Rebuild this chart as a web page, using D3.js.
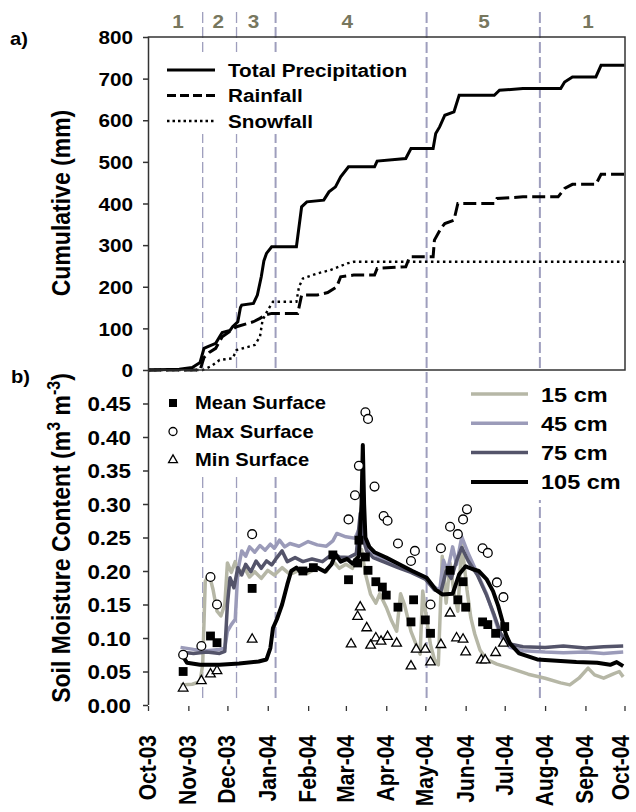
<!DOCTYPE html>
<html>
<head>
<meta charset="UTF-8">
<title>Cumulative precipitation and soil moisture</title>
<script src="https://cdnjs.cloudflare.com/ajax/libs/d3/7.8.5/d3.min.js"></script>
<style>
body { margin: 0; background: #fff; }
svg { display: block; font-family: "Liberation Sans", Arial, sans-serif; font-weight: bold; }
</style>
</head>
<body>
<script>
// ---- data ----
var monthLabels = ["Oct-03","Nov-03","Dec-03","Jan-04","Feb-04","Mar-04","Apr-04",
                   "May-04","Jun-04","Jul-04","Aug-04","Sep-04","Oct-04"];
var seasonNames = ["1","2","3","4","5","1"];
var seasonLabelDates = ["2003-10-24","2003-11-24","2003-12-21","2004-03-02","2004-06-15","2004-09-03"];
var seasonBreaks = ["2003-11-12","2003-12-08","2004-01-07","2004-05-02","2004-07-28"];
var precipTicks = [0,100,200,300,400,500,600,700,800];
var moistTicks = [0,0.05,0.10,0.15,0.20,0.25,0.30,0.35,0.40,0.45];

var totalPrecip = [["2003-10-01",0],["2003-10-25",2],["2003-11-04",6],["2003-11-10",18],["2003-11-13",52],
  ["2003-11-16",56],["2003-11-22",64],["2003-11-25",80],["2003-11-27",90],["2003-12-03",95],["2003-12-05",104],
  ["2003-12-09",116],["2003-12-11",150],["2003-12-12",156],["2003-12-21",160],["2003-12-24",180],["2003-12-27",224],
  ["2003-12-29",262],["2003-12-31",280],["2004-01-04",296],["2004-01-23",296],["2004-01-24",320],["2004-01-27",392],
  ["2004-01-31",404],["2004-02-13",408],["2004-02-17",428],["2004-02-22",440],["2004-02-26",464],["2004-03-03",488],
  ["2004-03-23",488],["2004-03-25",502],["2004-04-16",508],["2004-04-20",532],["2004-05-07",532],["2004-05-09",568],
  ["2004-05-12",584],["2004-05-16",612],["2004-05-23",620],["2004-05-27",660],["2004-06-23",660],["2004-06-27",672],
  ["2004-07-15",676],["2004-08-13",676],["2004-08-16",692],["2004-08-22",704],["2004-09-09",704],["2004-09-13",732],
  ["2004-10-01",732]];
var rainfall = [["2003-10-01",0],["2003-11-10",0],["2003-11-13",30],["2003-11-17",42],["2003-11-22",52],
  ["2003-11-27",80],["2003-12-08",104],["2003-12-21",116],["2003-12-26",124],["2003-12-30",132],["2004-01-04",136],
  ["2004-01-24",136],["2004-01-27",180],["2004-02-08",180],["2004-02-16",186],["2004-02-23",200],["2004-02-26",224],
  ["2004-03-07",228],["2004-03-23",228],["2004-03-25",244],["2004-04-16",248],["2004-04-19",272],["2004-05-07",272],
  ["2004-05-08",312],["2004-05-13",340],["2004-05-16",352],["2004-05-23",360],["2004-05-26",400],["2004-06-23",400],
  ["2004-06-25",412],["2004-07-15",416],["2004-08-11",416],["2004-08-16",436],["2004-08-22",446],["2004-09-09",446],
  ["2004-09-13",470],["2004-10-01",470]];
var snowfall = [["2003-10-01",0],["2003-11-12",0],["2003-11-19",10],["2003-11-25",24],["2003-12-05",28],
  ["2003-12-08",48],["2003-12-22",60],["2003-12-26",80],["2003-12-28",120],["2004-01-01",144],["2004-01-05",164],
  ["2004-01-23",164],["2004-01-25",200],["2004-01-28",220],["2004-02-08",232],["2004-02-18",240],["2004-03-02",256],
  ["2004-03-07",260],["2004-10-01",260]];

var soil15 = [["2003-10-26",0.030],["2003-11-04",0.031],["2003-11-10",0.035],["2003-11-12",0.060],["2003-11-14",0.185],
  ["2003-11-17",0.195],["2003-11-20",0.172],["2003-11-23",0.140],["2003-11-26",0.133],["2003-11-29",0.150],
  ["2003-12-01",0.212],["2003-12-04",0.198],["2003-12-07",0.214],["2003-12-10",0.194],["2003-12-14",0.205],
  ["2003-12-18",0.191],["2003-12-22",0.199],["2003-12-27",0.189],["2004-01-01",0.201],["2004-01-06",0.194],
  ["2004-01-12",0.205],["2004-01-18",0.195],["2004-01-25",0.201],["2004-02-01",0.197],["2004-02-08",0.205],
  ["2004-02-15",0.199],["2004-02-20",0.215],["2004-02-25",0.204],["2004-03-01",0.210],["2004-03-06",0.204],
  ["2004-03-10",0.226],["2004-03-13",0.232],["2004-03-16",0.196],["2004-03-20",0.165],["2004-03-24",0.152],
  ["2004-03-27",0.166],["2004-04-01",0.146],["2004-04-05",0.126],["2004-04-09",0.110],["2004-04-12",0.166],
  ["2004-04-15",0.150],["2004-04-20",0.110],["2004-04-24",0.090],["2004-04-27",0.076],["2004-04-29",0.170],
  ["2004-05-02",0.128],["2004-05-05",0.090],["2004-05-08",0.068],["2004-05-11",0.060],["2004-05-14",0.222],
  ["2004-05-17",0.152],["2004-05-20",0.212],["2004-05-23",0.168],["2004-05-26",0.140],["2004-05-29",0.242],
  ["2004-06-02",0.172],["2004-06-05",0.130],["2004-06-08",0.106],["2004-06-12",0.082],["2004-06-17",0.068],
  ["2004-06-25",0.061],["2004-07-05",0.055],["2004-07-19",0.046],["2004-08-01",0.040],["2004-08-13",0.033],
  ["2004-08-20",0.030],["2004-08-27",0.040],["2004-09-03",0.055],["2004-09-08",0.045],["2004-09-15",0.040],
  ["2004-09-22",0.046],["2004-09-27",0.050],["2004-09-30",0.042]];
var soil45 = [["2003-10-26",0.086],["2003-11-05",0.083],["2003-11-15",0.081],["2003-11-25",0.083],["2003-11-29",0.085],
  ["2003-12-01",0.110],["2003-12-04",0.120],["2003-12-07",0.128],["2003-12-09",0.200],["2003-12-12",0.230],
  ["2003-12-15",0.222],["2003-12-18",0.236],["2003-12-22",0.228],["2003-12-26",0.238],["2003-12-30",0.231],
  ["2004-01-03",0.240],["2004-01-06",0.234],["2004-01-10",0.246],["2004-01-14",0.236],["2004-01-18",0.241],
  ["2004-01-25",0.237],["2004-02-01",0.244],["2004-02-08",0.239],["2004-02-15",0.237],["2004-02-20",0.245],
  ["2004-02-23",0.256],["2004-03-01",0.251],["2004-03-08",0.249],["2004-03-11",0.262],["2004-03-13",0.272],
  ["2004-03-16",0.242],["2004-03-20",0.229],["2004-03-25",0.223],["2004-04-01",0.216],["2004-04-10",0.209],
  ["2004-04-20",0.201],["2004-05-01",0.191],["2004-05-08",0.176],["2004-05-12",0.171],["2004-05-15",0.216],
  ["2004-05-18",0.200],["2004-05-22",0.236],["2004-05-25",0.210],["2004-05-29",0.251],["2004-06-03",0.226],
  ["2004-06-10",0.196],["2004-06-17",0.166],["2004-06-23",0.131],["2004-06-28",0.101],["2004-07-05",0.086],
  ["2004-07-15",0.081],["2004-08-01",0.079],["2004-08-15",0.078],["2004-09-01",0.079],["2004-09-15",0.077],
  ["2004-09-30",0.079]];
var soil75 = [["2003-10-26",0.079],["2003-11-05",0.077],["2003-11-15",0.079],["2003-11-25",0.077],["2003-11-29",0.080],
  ["2003-12-01",0.150],["2003-12-03",0.190],["2003-12-06",0.175],["2003-12-09",0.205],["2003-12-12",0.194],
  ["2003-12-15",0.210],["2003-12-19",0.199],["2003-12-23",0.215],["2003-12-27",0.204],["2003-12-31",0.215],
  ["2004-01-04",0.209],["2004-01-08",0.220],["2004-01-12",0.230],["2004-01-16",0.214],["2004-01-22",0.220],
  ["2004-01-28",0.214],["2004-02-04",0.218],["2004-02-12",0.214],["2004-02-20",0.226],["2004-02-25",0.221],
  ["2004-03-03",0.220],["2004-03-09",0.226],["2004-03-12",0.286],["2004-03-14",0.250],["2004-03-17",0.230],
  ["2004-03-22",0.220],["2004-04-01",0.212],["2004-04-10",0.205],["2004-04-20",0.198],["2004-05-01",0.188],
  ["2004-05-08",0.172],["2004-05-13",0.169],["2004-05-17",0.200],["2004-05-21",0.189],["2004-05-25",0.215],
  ["2004-05-29",0.235],["2004-06-03",0.215],["2004-06-10",0.194],["2004-06-17",0.164],["2004-06-23",0.134],
  ["2004-06-28",0.106],["2004-07-05",0.091],["2004-07-15",0.087],["2004-08-01",0.086],["2004-08-15",0.088],
  ["2004-09-01",0.085],["2004-09-15",0.087],["2004-09-30",0.088]];
var soil105 = [["2003-10-28",0.072],["2003-10-31",0.063],["2003-11-10",0.060],["2003-11-25",0.060],["2003-12-10",0.062],
  ["2003-12-25",0.065],["2003-12-31",0.068],["2004-01-03",0.085],["2004-01-05",0.115],["2004-01-08",0.128],
  ["2004-01-12",0.150],["2004-01-16",0.180],["2004-01-19",0.200],["2004-01-23",0.205],["2004-01-27",0.197],
  ["2004-02-02",0.202],["2004-02-08",0.205],["2004-02-14",0.199],["2004-02-19",0.210],["2004-02-22",0.225],
  ["2004-02-26",0.214],["2004-03-02",0.218],["2004-03-06",0.211],["2004-03-11",0.222],["2004-03-13",0.300],
  ["2004-03-14",0.388],["2004-03-15",0.300],["2004-03-16",0.250],["2004-03-19",0.236],["2004-03-23",0.228],
  ["2004-04-01",0.220],["2004-04-11",0.210],["2004-04-21",0.200],["2004-05-02",0.190],["2004-05-09",0.172],
  ["2004-05-14",0.165],["2004-05-22",0.166],["2004-05-27",0.195],["2004-06-01",0.207],["2004-06-06",0.203],
  ["2004-06-11",0.200],["2004-06-17",0.188],["2004-06-22",0.170],["2004-06-26",0.148],["2004-06-29",0.127],
  ["2004-07-02",0.105],["2004-07-05",0.092],["2004-07-12",0.077],["2004-07-26",0.068],["2004-08-10",0.066],
  ["2004-08-25",0.064],["2004-09-10",0.063],["2004-09-20",0.060],["2004-09-25",0.064],["2004-09-30",0.058]];

var meanSurface = [["2003-10-28",0.050],["2003-11-18",0.103],["2003-11-23",0.093],["2003-12-20",0.174],
  ["2004-01-28",0.200],["2004-02-05",0.205],["2004-02-20",0.224],["2004-03-03",0.187],["2004-03-10",0.212],
  ["2004-03-11",0.246],["2004-03-16",0.221],["2004-03-18",0.201],["2004-03-24",0.184],["2004-03-29",0.176],
  ["2004-04-01",0.164],["2004-04-10",0.146],["2004-04-20",0.124],["2004-04-22",0.157],["2004-05-01",0.127],
  ["2004-05-05",0.107],["2004-05-20",0.201],["2004-05-26",0.157],["2004-05-30",0.184],["2004-06-01",0.146],
  ["2004-06-14",0.124],["2004-06-18",0.120],["2004-06-24",0.107],["2004-07-01",0.117]];
var maxSurface = [["2003-10-28",0.075],["2003-11-11",0.088],["2003-11-18",0.191],["2003-11-23",0.150],
  ["2003-12-20",0.255],["2004-03-03",0.277],["2004-03-08",0.313],["2004-03-11",0.357],["2004-03-16",0.437],
  ["2004-03-18",0.427],["2004-03-23",0.326],["2004-03-30",0.282],["2004-04-02",0.275],["2004-04-10",0.241],
  ["2004-04-20",0.215],["2004-04-23",0.230],["2004-05-05",0.150],["2004-05-13",0.234],["2004-05-20",0.266],
  ["2004-05-26",0.255],["2004-05-30",0.277],["2004-06-02",0.292],["2004-06-14",0.234],["2004-06-18",0.227],
  ["2004-06-25",0.183],["2004-06-30",0.161]];
var minSurface = [["2003-10-28",0.025],["2003-11-11",0.036],["2003-11-18",0.046],["2003-11-23",0.051],
  ["2003-12-20",0.098],["2004-03-05",0.091],["2004-03-10",0.132],["2004-03-12",0.146],["2004-03-17",0.115],
  ["2004-03-20",0.089],["2004-03-24",0.100],["2004-03-28",0.095],["2004-04-02",0.102],["2004-04-09",0.092],
  ["2004-04-20",0.058],["2004-04-24",0.083],["2004-05-01",0.083],["2004-05-05",0.064],["2004-05-13",0.090],
  ["2004-05-20",0.137],["2004-05-25",0.100],["2004-05-30",0.098],["2004-06-01",0.079],["2004-06-13",0.067],
  ["2004-06-16",0.067],["2004-06-24",0.078],["2004-06-30",0.092]];

// ---- layout ----
var W = 636, H = 812;
var left = 148, right = 624.5;
var topA = 37, botA = 370, botB = 705;
var SX = 1.12;          // glyphs in the original are a bit wider than Arial
var seasonColor = "#9e9ebd", numColor = "#77775e";

var parse = d3.timeParse("%Y-%m-%d");
var parseMonth = d3.timeParse("%b-%y");
function rows(arr){ return arr.map(function(d){ return {date: parse(d[0]), v: d[1]}; }); }

var x = d3.scaleTime().domain([parseMonth(monthLabels[0]), parseMonth(monthLabels[monthLabels.length-1])]).range([left, right]);
var yA = d3.scaleLinear().domain([0, 800]).range([botA, topA]);
var yB = d3.scaleLinear().domain([0, 0.5]).range([botB, botA]);

var svg = d3.select("body").append("svg").attr("width", W).attr("height", H);

function label(g, px, py, s, size, anchor, rot){
    return g.append("text")
        .attr("transform", "translate(" + px + "," + py + ") scale(" + SX + ",1)" + (rot ? " rotate(-90)" : ""))
        .attr("font-size", size)
        .attr("text-anchor", anchor || "start")
        .text(s);
}

// season separators
var breaks = seasonBreaks.map(parse);
svg.append("g").selectAll("line").data(breaks).enter().append("line")
    .attr("x1", function(d){ return x(d); }).attr("x2", function(d){ return x(d); })
    .attr("y1", 12).attr("y2", botB - 4)
    .attr("stroke", seasonColor)
    .attr("stroke-width", function(d, i){ return i < 2 ? 1.3 : 2; })
    .attr("stroke-dasharray", "11,4");

seasonNames.forEach(function(s, i){
    label(svg, x(parse(seasonLabelDates[i])), 28, s, 18.5, "middle").attr("fill", numColor);
});

// ---- panel a ----
var gA = svg.append("g");
var lineA = d3.line().x(function(d){ return x(d.date); }).y(function(d){ return yA(d.v); });

gA.append("path").datum(rows(snowfall)).attr("d", lineA)
    .attr("fill", "none").attr("stroke", "#000").attr("stroke-width", 2.4).attr("stroke-dasharray", "2.5,3.5");
gA.append("path").datum(rows(rainfall)).attr("d", lineA)
    .attr("fill", "none").attr("stroke", "#000").attr("stroke-width", 3).attr("stroke-dasharray", "13,5");
gA.append("path").datum(rows(totalPrecip)).attr("d", lineA)
    .attr("fill", "none").attr("stroke", "#000").attr("stroke-width", 3);

gA.append("rect").attr("x", left + 0.5).attr("y", topA).attr("width", right - left).attr("height", botA - topA)
    .attr("fill", "none").attr("stroke", "#333").attr("stroke-width", 1.5);

var axA = gA.append("g").attr("transform", "translate(" + left + ",0)")
    .call(d3.axisLeft(yA).tickValues(precipTicks).tickSize(5).tickFormat(d3.format("d")));
axA.select(".domain").remove();
axA.selectAll("line").attr("stroke", "#333").attr("stroke-width", 1.5);
axA.selectAll("text").attr("x", null).attr("dy", "0.36em")
    .attr("transform", "translate(-15,0) scale(" + SX + ",1)")
    .attr("font-size", 18.5).attr("font-family", null).attr("fill", "#000");

// legend a
var legA = gA.append("g");
legA.append("rect").attr("x", 160).attr("y", 52).attr("width", 258).attr("height", 82).attr("fill", "#fff");
var legAItems = [["Total Precipitation", null, 3], ["Rainfall", "9,4", 3], ["Snowfall", "2.5,3", 2.4]];
legAItems.forEach(function(it, i){
    var yy = 70 + i * 25.5;
    legA.append("line").attr("x1", 167).attr("x2", 215).attr("y1", yy).attr("y2", yy)
        .attr("stroke", "#000").attr("stroke-width", it[2]).attr("stroke-dasharray", it[1]);
    label(legA, 228, yy, it[0], 18.5).attr("dy", "0.36em");
});

label(svg, 10, 45, "a)", 18);
label(svg, 70, 203, "Cumulative (mm)", 23, "middle", true);

// ---- panel b ----
var gB = svg.append("g");
var lineB = d3.line().x(function(d){ return x(d.date); }).y(function(d){ return yB(d.v); });

var depths = [
    {name: "15 cm",  data: soil15,  color: "#b6b7a6", w: 3.5},
    {name: "45 cm",  data: soil45,  color: "#9b9bb9", w: 3.5},
    {name: "75 cm",  data: soil75,  color: "#54546a", w: 3.5},
    {name: "105 cm", data: soil105, color: "#000000", w: 4}
];
depths.forEach(function(s){
    gB.append("path").datum(rows(s.data)).attr("d", lineB)
        .attr("fill", "none").attr("stroke", s.color).attr("stroke-width", s.w)
        .attr("stroke-linejoin", "round");
});

var sqSym = d3.symbol(d3.symbolSquare, 78);
var triSym = d3.symbol(d3.symbolTriangle, 40);
function placeAt(d){ return "translate(" + x(d.date) + "," + yB(d.v) + ")"; }

gB.append("g").selectAll("path").data(rows(meanSurface)).enter().append("path")
    .attr("d", sqSym).attr("transform", placeAt).attr("fill", "#000");
gB.append("g").selectAll("circle").data(rows(maxSurface)).enter().append("circle")
    .attr("cx", function(d){ return x(d.date); }).attr("cy", function(d){ return yB(d.v); })
    .attr("r", 4.4).attr("fill", "#fff").attr("stroke", "#000").attr("stroke-width", 1.3);
gB.append("g").selectAll("path").data(rows(minSurface)).enter().append("path")
    .attr("d", triSym).attr("transform", placeAt)
    .attr("fill", "#fff").attr("stroke", "#000").attr("stroke-width", 1.3);

// axes b
gB.append("line").attr("x1", left + 0.5).attr("x2", left + 0.5).attr("y1", botA).attr("y2", botB)
    .attr("stroke", "#333").attr("stroke-width", 1.5);
var axB = gB.append("g").attr("transform", "translate(" + left + ",0)")
    .call(d3.axisLeft(yB).tickValues(moistTicks).tickSize(5).tickFormat(d3.format(".2f")));
axB.select(".domain").remove();
axB.selectAll("line").attr("stroke", "#333").attr("stroke-width", 1.5);
axB.selectAll("text").attr("x", null).attr("dy", "0.36em")
    .attr("transform", "translate(-17,0) scale(" + SX + ",1)")
    .attr("font-size", 20).attr("font-family", null).attr("fill", "#000");

var months = monthLabels.map(parseMonth);
var axX = gB.append("g").attr("transform", "translate(0," + botB + ")")
    .call(d3.axisBottom(x).tickValues(months).tickSize(5).tickFormat(d3.timeFormat("%b-%y")));
axX.select(".domain").remove();
axX.selectAll("line").attr("stroke", "#333").attr("stroke-width", 1.3).attr("y1", 1).attr("y2", 6);
axX.selectAll("text").attr("y", null).attr("dy", null)
    .attr("transform", function(d, i){
        // last label nudged in so it stays inside the page
        var dx = i == months.length - 1 ? 3.5 : 7.5;
        return "translate(" + dx + ",30) scale(" + SX + ",1) rotate(-90)";
    })
    .attr("text-anchor", "end").attr("font-size", 21).attr("font-family", null).attr("fill", "#000");

// marker legend
var legM = gB.append("g");
legM.append("rect").attr("x", 160).attr("y", 372).attr("width", 175).attr("height", 104).attr("fill", "#fff");
var markerItems = ["Mean Surface", "Max Surface", "Min Surface"];
markerItems.forEach(function(t, i){
    var yy = 403 + i * 28.5;
    var m;
    if(i == 0){
        m = legM.append("path").attr("d", d3.symbol(d3.symbolSquare, 64)).attr("fill", "#000");
    }else if(i == 1){
        m = legM.append("circle").attr("r", 4).attr("fill", "#fff").attr("stroke", "#000").attr("stroke-width", 1.3);
    }else{
        m = legM.append("path").attr("d", d3.symbol(d3.symbolTriangle, 34))
            .attr("fill", "#fff").attr("stroke", "#000").attr("stroke-width", 1.3);
    }
    m.attr("transform", "translate(173," + yy + ")");
    label(legM, 195, yy, t, 18).attr("dy", "0.36em");
});

// depth legend
var legD = gB.append("g");
legD.append("rect").attr("x", 462).attr("y", 372).attr("width", 172).attr("height", 128).attr("fill", "#fff");
depths.forEach(function(s, i){
    var yy = 394 + i * 29.3;
    legD.append("line").attr("x1", 471).attr("x2", 528).attr("y1", yy).attr("y2", yy)
        .attr("stroke", s.color).attr("stroke-width", s.w);
    label(legD, 541, yy, s.name, 21).attr("dy", "0.36em");
});

label(svg, 11, 383, "b)", 18);
var tb = svg.append("text")
    .attr("transform", "translate(70,538) scale(" + SX + ",1) rotate(-90)")
    .attr("font-size", 23).attr("text-anchor", "middle");
tb.append("tspan").text("Soil Moisture Content (m");
tb.append("tspan").attr("dy", -9).attr("font-size", 16).text("3");
tb.append("tspan").attr("dy", 9).text(" m");
tb.append("tspan").attr("dy", -9).attr("font-size", 16).text("-3");
tb.append("tspan").attr("dy", 9).text(")");
</script>
</body>
</html>
